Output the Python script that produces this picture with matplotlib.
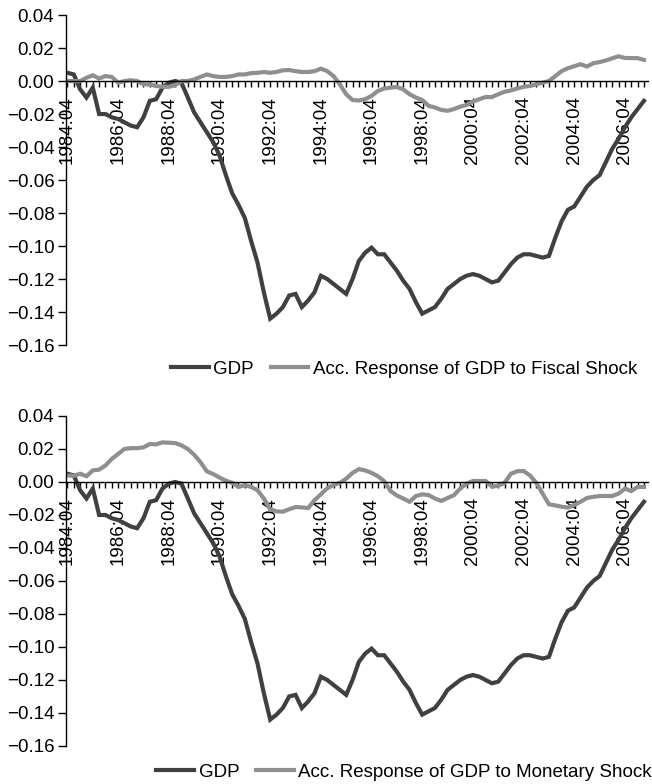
import matplotlib
matplotlib.use("Agg")
import matplotlib.pyplot as plt
from matplotlib.ticker import FixedLocator, MultipleLocator, FuncFormatter

# quarterly, 1984:04 .. 2007:03
gdp = [0.005, 0.004, -0.005, -0.010, -0.004, -0.020, -0.020, -0.022, -0.023, -0.025,
       -0.027, -0.028, -0.022, -0.012, -0.011, -0.004, -0.001, 0.000, -0.001, -0.010,
       -0.019, -0.025, -0.031, -0.037, -0.045, -0.057, -0.068, -0.075, -0.083, -0.097,
       -0.110, -0.128, -0.144, -0.141, -0.137, -0.130, -0.129, -0.137, -0.133, -0.128,
       -0.118, -0.120, -0.123, -0.126, -0.129, -0.120, -0.109, -0.104, -0.101, -0.105,
       -0.105, -0.110, -0.115, -0.121, -0.126, -0.134, -0.141, -0.139, -0.137, -0.132,
       -0.126, -0.123, -0.120, -0.118, -0.117, -0.118, -0.120, -0.122, -0.121, -0.116,
       -0.111, -0.107, -0.105, -0.105, -0.106, -0.107, -0.106, -0.095, -0.085, -0.078,
       -0.076, -0.070, -0.064, -0.060, -0.057, -0.049, -0.041, -0.035, -0.028, -0.022,
       -0.017, -0.012]

fiscal = [0.000, 0.000, 0.000, 0.002, 0.0035, 0.0015, 0.003, 0.0025, -0.001, 0.000,
          0.0005, 0.000, -0.002, -0.002, -0.003, -0.0035, -0.0035, -0.0025, 0.000, 0.000,
          0.001, 0.0025, 0.004, 0.003, 0.0025, 0.0025, 0.003, 0.004, 0.004, 0.0048,
          0.005, 0.0055, 0.005, 0.0055, 0.0065, 0.0067, 0.006, 0.0055, 0.0055, 0.006,
          0.0075, 0.006, 0.003, -0.002, -0.008, -0.0115, -0.0118, -0.011, -0.009, -0.006,
          -0.0045, -0.004, -0.0036, -0.005, -0.008, -0.010, -0.0115, -0.015, -0.016, -0.0175,
          -0.018, -0.017, -0.0155, -0.0145, -0.0125, -0.011, -0.0097, -0.0097, -0.008, -0.0065,
          -0.0057, -0.0045, -0.0035, -0.003, -0.002, -0.001, 0.000, 0.003, 0.006, 0.0078,
          0.009, 0.0102, 0.0088, 0.0108, 0.0115, 0.0125, 0.0138, 0.015, 0.014, 0.0139,
          0.0139, 0.0128]

monetary = [0.004, 0.0037, 0.005, 0.0035, 0.007, 0.0075, 0.010, 0.014, 0.017, 0.020,
            0.0205, 0.0205, 0.021, 0.023, 0.0228, 0.024, 0.0238, 0.0236, 0.0222, 0.020,
            0.0165, 0.012, 0.0065, 0.0048, 0.0027, 0.0008, -0.0005, -0.003, -0.002, -0.003,
            -0.005, -0.010, -0.0165, -0.0178, -0.018, -0.0165, -0.0152, -0.0154, -0.0158, -0.011,
            -0.0075, -0.0038, -0.0018, -0.0006, 0.002, 0.0055, 0.0078, 0.007, 0.0055, 0.0035,
            0.0005, -0.0055, -0.0082, -0.010, -0.012, -0.0085, -0.0075, -0.0079, -0.010, -0.0115,
            -0.0097, -0.008, -0.004, -0.001, 0.0006, 0.0006, 0.0006, -0.0028, -0.0023, -0.0005,
            0.005, 0.0065, 0.0067, 0.004, -0.0005, -0.007, -0.0135, -0.0142, -0.015, -0.0155,
            -0.0139, -0.012, -0.0097, -0.009, -0.0085, -0.0085, -0.0085, -0.007, -0.004, -0.0055,
            -0.003, -0.003]

tick_labels = ['1984:04', '1986:04', '1988:04', '1990:04', '1992:04', '1994:04',
               '1996:04', '1998:04', '2000:04', '2002:04', '2004:04', '2006:04']

legend_labels = ['Acc. Response of GDP to Fiscal Shock',
                 'Acc. Response of GDP to Monetary Shock']

plt.rcParams['font.family'] = ['Liberation Sans', 'DejaVu Sans']
FS = 13.5
DARK = '#404040'
LIGHT = '#8f8f8f'


def fmt(v, pos):
    if abs(v) < 1e-9:
        v = 0.0
    return f"{v:.2f}".replace('-', '\u2212')


def draw_panel(ax, resp, label):
    x = list(range(len(gdp)))
    l1, = ax.plot(x, gdp, color=DARK, lw=3.0, solid_joinstyle='miter', zorder=2)
    l2, = ax.plot(x, resp, color=LIGHT, lw=3.0, solid_joinstyle='miter', zorder=2)
    ax.set_xlim(-0.2, 91.6)
    ax.set_ylim(-0.16, 0.04)
    ax.spines['top'].set_visible(False)
    ax.spines['right'].set_visible(False)
    ax.spines['bottom'].set_position(('data', 0))
    ax.spines['left'].set_bounds(-0.16, 0.04)
    ax.yaxis.set_major_locator(MultipleLocator(0.02))
    ax.yaxis.set_major_formatter(FuncFormatter(fmt))
    ax.xaxis.set_major_locator(FixedLocator([i * 8 for i in range(len(tick_labels))]))
    ax.set_xticklabels(tick_labels, rotation=90, va='top', ha='center')
    ax.xaxis.set_minor_locator(FixedLocator(x))
    ax.tick_params(axis='x', which='both', direction='out', length=4.5, width=1,
                   pad=6.5, labelsize=FS)
    ax.tick_params(axis='y', direction='out', length=5.5, width=1, pad=3,
                   labelsize=FS)
    for s in ax.spines.values():
        s.set_linewidth(1.0)
    return l1, l2


fig = plt.figure(figsize=(6.52, 7.84), dpi=100)
ax1 = fig.add_axes([0.1015, 0.5599, 0.892, 0.4209])
ax2 = fig.add_axes([0.1015, 0.0485, 0.892, 0.4209])

for ax, resp, lab, ly in [(ax1, fiscal, legend_labels[0], 0.529),
                          (ax2, monetary, legend_labels[1], 0.0153)]:
    h1, h2 = draw_panel(ax, resp, lab)
    fig.legend([h1, h2], ['GDP', lab], loc='center', bbox_to_anchor=(0.62, ly),
               ncol=2, frameon=False, fontsize=FS, handlelength=2.0,
               handletextpad=0.25, columnspacing=0.9, borderpad=0.1)

plt.savefig('out.png', dpi=100)
